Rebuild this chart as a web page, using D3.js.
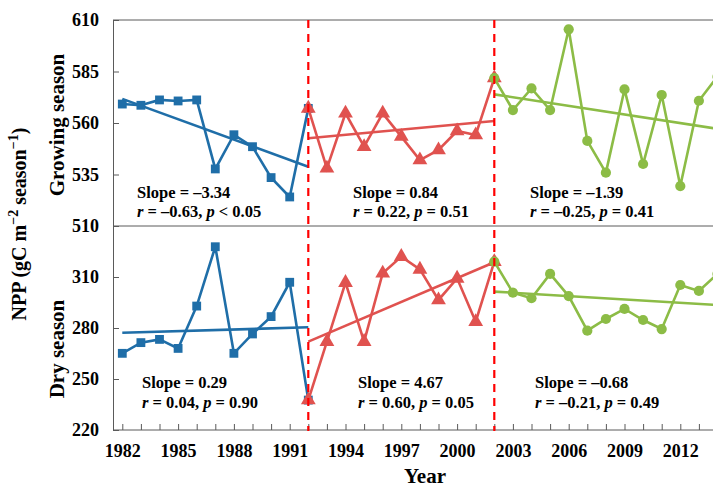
<!DOCTYPE html>
<html>
<head>
<meta charset="utf-8">
<script src="https://cdn.jsdelivr.net/npm/d3@7"></script>
<style>
  body { margin: 0; background: #fff; }
  svg { font-family: "Liberation Serif", "Times New Roman", serif; font-weight: bold; }
</style>
</head>
<body>
<div id="chart"></div>
<script>
// ---------------- data ----------------
const yearsA = d3.range(1982, 1993);   // 1982-1992
const yearsB = d3.range(1992, 2003);   // 1992-2002
const yearsC = d3.range(2002, 2015);   // 2002-2014

// growing season NPP
const growA = [569.2, 568.6, 571.2, 570.7, 571.2, 537.7, 554.3, 548.5, 533.5, 524.1, 567.1];
const growB = [567.1, 538.0, 564.7, 548.5, 564.7, 553.4, 542.0, 546.9, 556.1, 554.2, 581.8];
const growC = [581.8, 566.3, 576.8, 566.3, 605.5, 551.3, 535.9, 576.3, 540.1, 573.6, 529.4, 570.8, 582.5];

// dry season NPP
const dryA = [265.1, 271.4, 273.3, 268.0, 292.9, 327.8, 265.1, 276.5, 286.7, 306.9, 237.6];
const dryB = [237.6, 272.0, 306.7, 272.0, 312.2, 322.0, 314.5, 296.5, 309.2, 283.7, 319.0];
const dryC = [319.0, 300.8, 297.5, 311.8, 298.8, 278.4, 285.3, 291.2, 284.7, 279.4, 305.3, 301.8, 311.8];

// trend lines (start / end)
const trendGrowA = [[1982, 571.7], [1992, 538.8]];
const trendGrowB = [[1992, 552.6], [2002, 561.0]];
const trendGrowC = [[2002, 573.9], [2014.5, 556.5]];
const trendDryA = [[1982, 277.2], [1992, 280.4]];
const trendDryB = [[1992, 272.0], [2002, 318.7]];
const trendDryC = [[2002, 301.4], [2014.5, 293.2]];

const statsGrow = [["–3.34", "–0.63", "< 0.05"], ["0.84", "0.22", "= 0.51"], ["–1.39", "–0.25", "= 0.41"]];
const statsDry = [["0.29", "0.04", "= 0.90"], ["4.67", "0.60", "= 0.05"], ["–0.68", "–0.21", "= 0.49"]];

const breakYears = [1992, 2002];
const xTicks = d3.range(1982, 2015, 3);
const growTicks = [510, 535, 560, 585, 610];
const dryTicks = [220, 250, 280, 310];

// ---------------- layout ----------------
const width = 713, height = 489;
const left = 113;
const colors = ["#1f6ea8", "#e0524f", "#8cbc46"];
const frameColor = "#5a5a5a";

const svg = d3.select("#chart").append("svg")
  .attr("width", width).attr("height", height);

const x = d3.scaleLinear().domain([1981.5, 2014.5]).range([left, left + 33 * 18.6]);
const yGrow = d3.scaleLinear().domain([510, 610]).range([226, 20]);
const yDry = d3.scaleLinear().domain([220, 340]).range([430, 226]);

// frame
svg.append("line").attr("x1", left).attr("x2", width).attr("y1", 20).attr("y2", 20)
  .attr("stroke", frameColor).attr("stroke-width", 1);
svg.append("line").attr("x1", left).attr("x2", width).attr("y1", 226).attr("y2", 226)
  .attr("stroke", frameColor).attr("stroke-width", 1);

// axes
const axisFont = (g) => {
  g.selectAll("path, line").attr("stroke", frameColor);
  g.selectAll("text").attr("fill", "#000").style("font-size", "18px")
    .style("font-family", "Liberation Serif, serif").style("font-weight", "bold");
};

svg.append("g").attr("transform", `translate(${left},0)`)
  .call(d3.axisLeft(yGrow).tickValues(growTicks).tickSizeInner(-6).tickSizeOuter(0).tickPadding(14))
  .call(axisFont);
svg.append("g").attr("transform", `translate(${left},0)`)
  .call(d3.axisLeft(yDry).tickValues(dryTicks).tickSizeInner(-6).tickSizeOuter(0).tickPadding(14))
  .call(axisFont);

const xAxisG = svg.append("g").attr("transform", "translate(0,430)")
  .call(d3.axisBottom(x).tickValues(d3.range(1982, 2015)).tickSizeInner(-6).tickSizeOuter(0)
    .tickPadding(14).tickFormat((d) => (xTicks.includes(d) ? d : "")))
  .call(axisFont);
xAxisG.select(".domain").attr("d", `M${left},0H${width}`);

// series
const lineGrow = d3.line().x((d) => x(d[0])).y((d) => yGrow(d[1]));
const lineDry = d3.line().x((d) => x(d[0])).y((d) => yDry(d[1]));

const groups = [
  { years: yearsA, grow: growA, dry: dryA, tg: trendGrowA, td: trendDryA, shape: d3.symbolSquare, size: 78 },
  { years: yearsB, grow: growB, dry: dryB, tg: trendGrowB, td: trendDryB, shape: d3.symbolTriangle, size: 95 },
  { years: yearsC, grow: growC, dry: dryC, tg: trendGrowC, td: trendDryC, shape: d3.symbolCircle, size: 82 },
];

groups.forEach((s, i) => {
  const c = colors[i];
  [[s.grow, lineGrow, yGrow, s.tg], [s.dry, lineDry, yDry, s.td]].forEach(([vals, ln, y, tr]) => {
    const pts = s.years.map((yr, k) => [yr, vals[k]]);
    svg.append("path").datum(tr).attr("d", ln)
      .attr("fill", "none").attr("stroke", c).attr("stroke-width", 2.6);
    svg.append("path").datum(pts).attr("d", ln)
      .attr("fill", "none").attr("stroke", c).attr("stroke-width", 2.6)
      .attr("stroke-linejoin", "miter");
    svg.selectAll(null).data(pts).enter().append("path")
      .attr("transform", (d) => `translate(${x(d[0])},${y(d[1])})`)
      .attr("d", d3.symbol().type(s.shape).size(s.size))
      .attr("fill", c);
  });
});

// break lines
svg.selectAll(".brk").data(breakYears).enter().append("line")
  .attr("x1", (d) => x(d)).attr("x2", (d) => x(d))
  .attr("y1", 20).attr("y2", 431)
  .attr("stroke", "#ff0000").attr("stroke-width", 2.2)
  .attr("stroke-dasharray", "8,6");

// annotations
const annoX = [137, 353, 530];
const annoXDry = [142, 358, 535];
function annotate(stats, xs, y0) {
  stats.forEach((st, i) => {
    svg.append("text").attr("x", xs[i]).attr("y", y0)
      .style("font-size", "16.5px").text(`Slope = ${st[0]}`);
    const t = svg.append("text").attr("x", xs[i]).attr("y", y0 + 19.5).style("font-size", "16.5px");
    t.append("tspan").attr("font-style", "italic").text("r");
    t.append("tspan").text(` = ${st[1]}, `);
    t.append("tspan").attr("font-style", "italic").text("p");
    t.append("tspan").text(` ${st[2]}`);
  });
}
annotate(statsGrow, annoX, 197.5);
annotate(statsDry, annoXDry, 388);

// axis titles
svg.append("text").attr("transform", "translate(64,125) rotate(-90)")
  .attr("text-anchor", "middle").style("font-size", "21px").text("Growing season");
svg.append("text").attr("transform", "translate(64,349) rotate(-90)")
  .attr("text-anchor", "middle").style("font-size", "21px").text("Dry season");

const yt = svg.append("text").attr("transform", "translate(26,224) rotate(-90)")
  .attr("text-anchor", "middle").style("font-size", "20px");
yt.append("tspan").text("NPP (gC m");
yt.append("tspan").attr("dy", "-8").style("font-size", "14px").text("−2");
yt.append("tspan").attr("dy", "8").text(" season");
yt.append("tspan").attr("dy", "-8").style("font-size", "14px").text("−1");
yt.append("tspan").attr("dy", "8").text(")");

svg.append("text").attr("x", 425).attr("y", 483).attr("text-anchor", "middle")
  .style("font-size", "21px").text("Year");
</script>
</body>
</html>
